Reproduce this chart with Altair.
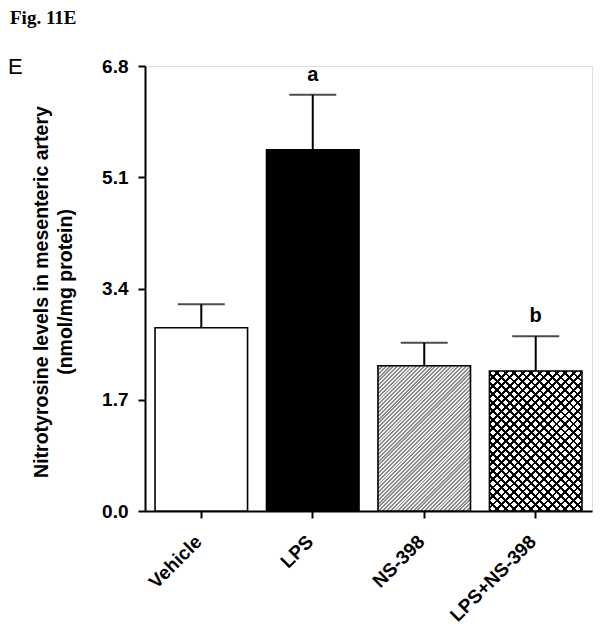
import math
import altair as alt
import pandas as pd

# ---- data ----
categories = ["Vehicle", "LPS", "NS-398", "LPS+NS-398"]
means = [2.80, 5.52, 2.22, 2.14]
sems = [0.36, 0.84, 0.35, 0.53]
letters = ["", "a", "", "b"]
y_ticks = [0.0, 1.7, 3.4, 5.1, 6.8]
y_title = ["Nitrotyrosine levels in mesenteric artery", "(nmol/mg protein)"]
fig_title = "Fig. 11E"
panel_label = "E"

# ---- layout ----
W, H = 447, 445
YMAX = 6.8
P_IN, P_OUT = 0.17, 0.09
FONT = "Liberation Sans"

df = pd.DataFrame({
    "cat": categories,
    "mean": means,
    "sem": sems,
    "top": [m + s for m, s in zip(means, sems)],
    "letter": letters,
})

step = W / (len(categories) - P_IN + 2 * P_OUT)
bw = step * (1 - P_IN)


def stripes(value, period, frac, c_on, c_off, direction):
    """Linear gradient with hard stops that draws 45-degree hatch lines in a bar."""
    w = bw
    h = value / YMAX * H
    D = (w * w + h * h) / (w * math.sqrt(2))
    n = int(math.ceil(D / period))
    s = n * period / D
    stops = []
    for i in range(n):
        a = i / n
        b = (i + frac) / n
        c = (i + 1) / n
        stops += [
            alt.GradientStop(offset=round(a, 6), color=c_on),
            alt.GradientStop(offset=round(b, 6), color=c_on),
            alt.GradientStop(offset=round(b, 6), color=c_off),
            alt.GradientStop(offset=round(min(c, 1.0), 6), color=c_off),
        ]
    if direction == "/":
        return alt.LinearGradient(gradient="linear", stops=stops,
                                  x1=0, y1=0, x2=s, y2=s * h / w)
    return alt.LinearGradient(gradient="linear", stops=stops,
                              x1=0, y1=1, x2=s, y2=1 - s * h / w)


x_enc = alt.X(
    "cat:N",
    sort=categories,
    scale=alt.Scale(paddingInner=P_IN, paddingOuter=P_OUT),
    axis=alt.Axis(
        title=None, labelAngle=-45, labelFont=FONT, labelFontSize=19,
        labelFontWeight="bold", labelColor="black", labelPadding=14,
        labelOffset=-9,
        tickSize=7, tickWidth=2, tickColor="black",
        domainWidth=2, domainColor="black", labelLimit=300,
    ),
)
x_plain = alt.X("cat:N", sort=categories)

y_scale = alt.Scale(domain=[0, YMAX], nice=False, zero=True)
y_enc = alt.Y(
    "mean:Q",
    scale=y_scale,
    axis=alt.Axis(
        values=y_ticks, format=".1f", grid=False,
        labelFont=FONT, labelFontSize=19, labelFontWeight="bold",
        labelColor="black", labelPadding=10,
        tickSize=7, tickWidth=2, tickColor="black",
        domainWidth=2, domainColor="black",
        title=y_title, titleFont=FONT, titleFontSize=19.5,
        titleFontWeight="bold", titleColor="black", titleLineHeight=24,
        titleAngle=-90, titleAlign="center", titleBaseline="bottom",
        titleX=-94, titleY=H / 2 + 3,
    ),
)

base = alt.Chart(df)

fill_colors = ["white", "black", "white", "white"]
bars = base.mark_bar(strokeWidth=0).encode(
    x=x_enc, y=y_enc,
    fill=alt.Fill("cat:N", scale=alt.Scale(domain=categories, range=fill_colors), legend=None),
)

ns_val = means[categories.index("NS-398")]
combo_val = means[categories.index("LPS+NS-398")]

hatch_gray = base.transform_filter(alt.datum.cat == "NS-398").mark_bar(
    fill=stripes(ns_val, 2.7, 0.5, "#8a8a8a", "#ededed", "/"), strokeWidth=0
).encode(x=x_plain, y="mean:Q")

cross1 = base.transform_filter(alt.datum.cat == "LPS+NS-398").mark_bar(
    fill=stripes(combo_val, 6.0, 0.33, "black", "rgba(0,0,0,0)", "/"), strokeWidth=0
).encode(x=x_plain, y="mean:Q")
cross2 = base.transform_filter(alt.datum.cat == "LPS+NS-398").mark_bar(
    fill=stripes(combo_val, 6.0, 0.33, "black", "rgba(0,0,0,0)", "\\"), strokeWidth=0
).encode(x=x_plain, y="mean:Q")

outline = base.mark_bar(fillOpacity=0, stroke="black", strokeWidth=1.6).encode(
    x=x_plain, y="mean:Q"
)

err = base.mark_rule(color="black", strokeWidth=2).encode(
    x=x_plain, y="mean:Q", y2="top:Q"
)
cap = base.mark_tick(color="black", size=47, thickness=2).encode(
    x=x_plain, y="top:Q"
)
sig = base.mark_text(
    font=FONT, fontSize=20, fontWeight="bold", color="black",
    baseline="alphabetic", dy=-14,
).encode(x=x_plain, y="top:Q", text="letter:N")

ann = pd.DataFrame({"t": [fig_title]})
fig_txt = alt.Chart(ann).mark_text(
    font="Liberation Serif", fontSize=19, fontWeight="bold", color="black",
    align="left", baseline="alphabetic",
).encode(x=alt.value(-135), y=alt.value(-42), text="t:N")

pan = pd.DataFrame({"t": [panel_label]})
pan_txt = alt.Chart(pan).mark_text(
    font=FONT, fontSize=22, color="black", align="left", baseline="alphabetic",
).encode(x=alt.value(-137), y=alt.value(8), text="t:N")

chart = alt.layer(
    bars, hatch_gray, cross1, cross2, outline, err, cap, sig, fig_txt, pan_txt
).properties(
    width=W, height=H,
    autosize=alt.AutoSizeParams(type="none"),
    padding={"left": 137, "top": 58, "right": 2, "bottom": 116},
).configure_view(stroke=None).configure(background="white")

chart.save("out.html", embed_options={"renderer": "svg", "actions": False})
